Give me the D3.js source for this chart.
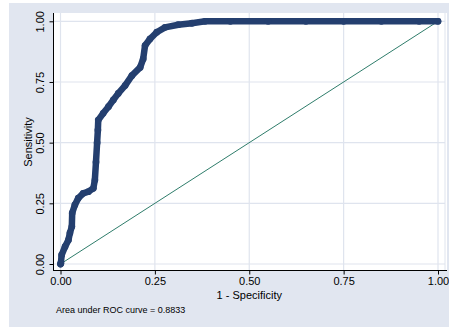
<!DOCTYPE html>
<html><head><meta charset="utf-8">
<script src="https://cdn.jsdelivr.net/npm/d3@7/dist/d3.min.js"></script>
<style>
html,body{margin:0;padding:0;background:#fff;}
text{font-family:"Liberation Sans",Arial,Helvetica,sans-serif;fill:#000;}
</style></head>
<body>
<svg id="chart" width="449" height="327"></svg>
<script>
// ROC curve points (1 - specificity, sensitivity)
const fpr = [0, 0.001, 0.003, 0.012, 0.021, 0.025, 0.030, 0.031, 0.038, 0.047, 0.060, 0.074, 0.087, 0.091, 0.094, 0.097, 0.099, 0.100, 0.113, 0.127, 0.140, 0.153, 0.171, 0.189, 0.211, 0.219, 0.224, 0.237, 0.255, 0.277, 0.312, 0.348, 0.383, 0.45, 0.55, 0.65, 0.75, 0.85, 0.95, 1.0];
const tpr = [0, 0.003, 0.037, 0.071, 0.099, 0.128, 0.154, 0.210, 0.243, 0.271, 0.291, 0.298, 0.312, 0.346, 0.42, 0.50, 0.552, 0.593, 0.621, 0.648, 0.676, 0.703, 0.735, 0.776, 0.810, 0.845, 0.90, 0.927, 0.955, 0.975, 0.986, 0.992, 1.0, 1, 1, 1, 1, 1, 1, 1];
const refX = [0, 1];
const refY = [0, 1];
const ticks = [0, 0.25, 0.5, 0.75, 1];
const tickLabels = ["0.00", "0.25", "0.50", "0.75", "1.00"];
const xTitle = "1 - Specificity";
const yTitle = "Sensitivity";
const note = "Area under ROC curve = 0.8833";

const svg = d3.select("#chart");
const bg = "#e1e6f0", grid = "#dfe4ee", navy = "#243f6f", green = "#2f7d6b";

svg.append("rect").attr("x", 9).attr("y", 3).attr("width", 440).attr("height", 324).attr("fill", bg);
const plot = {l: 53, r: 447, t: 13, b: 271};
svg.append("rect").attr("x", plot.l).attr("y", plot.t).attr("width", plot.r - plot.l).attr("height", plot.b - plot.t).attr("fill", "#fff");

const x = d3.scaleLinear().domain([0, 1]).range([60.5, 438]);
const y = d3.scaleLinear().domain([0, 1]).range([264, 21.3]);

// gridlines
svg.append("g").selectAll("line.h").data(ticks).join("line")
  .attr("x1", plot.l).attr("x2", plot.r - 2).attr("y1", d => y(d)).attr("y2", d => y(d))
  .attr("stroke", grid).attr("stroke-width", 1.2);
svg.append("g").selectAll("line.v").data(ticks).join("line")
  .attr("y1", plot.t).attr("y2", plot.b).attr("x1", d => x(d)).attr("x2", d => x(d))
  .attr("stroke", grid).attr("stroke-width", 1.2);
svg.append("line").attr("x1", 445).attr("x2", 445).attr("y1", plot.t).attr("y2", plot.b).attr("stroke", grid).attr("stroke-width", 1);

// axes
const xAxis = d3.axisBottom(x).tickValues(ticks).tickFormat((d, i) => tickLabels[i]).tickSize(4).tickPadding(3);
const gx = svg.append("g").attr("transform", `translate(0,${plot.b - 0.5})`).call(xAxis);
gx.select(".domain").remove();
gx.append("line").attr("x1", plot.l).attr("x2", plot.r).attr("stroke", "#000").attr("stroke-width", 1);
gx.selectAll(".tick line").attr("stroke", "#000");
gx.selectAll(".tick text").attr("font-size", 11).attr("font-family", "Liberation Sans, Arial, sans-serif").attr("fill", "#000").attr("dy", "0.72em");

const yAxis = d3.axisLeft(y).tickValues(ticks).tickFormat((d, i) => tickLabels[i]).tickSize(4).tickPadding(3);
const gy = svg.append("g").attr("transform", `translate(${plot.l + 0.5},0)`).call(yAxis);
gy.select(".domain").remove();
gy.append("line").attr("y1", plot.t).attr("y2", plot.b).attr("stroke", "#000").attr("stroke-width", 1);
gy.selectAll(".tick line").attr("stroke", "#000");
gy.selectAll(".tick text").attr("font-size", 11).attr("font-family", "Liberation Sans, Arial, sans-serif").attr("fill", "#000")
  .attr("text-anchor", "middle").attr("x", null).attr("dy", null)
  .attr("transform", "translate(-9.5,0) rotate(-90)");

// reference line
const pts = fpr.map((d, i) => [d, tpr[i]]);
svg.append("path").datum(refX.map((d, i) => [d, refY[i]]))
  .attr("d", d3.line().x(d => x(d[0])).y(d => y(d[1])))
  .attr("fill", "none").attr("stroke", green).attr("stroke-width", 1);

// ROC curve
svg.append("path").datum(pts)
  .attr("d", d3.line().x(d => x(d[0])).y(d => y(d[1])))
  .attr("fill", "none").attr("stroke", navy).attr("stroke-width", 6.5)
  .attr("stroke-linejoin", "round").attr("stroke-linecap", "round");
svg.append("g").selectAll("circle").data(pts).join("circle")
  .attr("cx", d => x(d[0])).attr("cy", d => y(d[1])).attr("r", 3.4)
  .attr("fill", navy);

// titles
svg.append("text").attr("x", x(0.5)).attr("y", 299).attr("text-anchor", "middle").attr("font-size", 11).text(xTitle);
svg.append("text").attr("transform", `translate(31.5,${(plot.t + plot.b) / 2}) rotate(-90)`).attr("text-anchor", "middle").attr("font-size", 11).text(yTitle);
svg.append("text").attr("x", 56).attr("y", 313).attr("font-size", 9).text(note);
</script>
</body></html>
